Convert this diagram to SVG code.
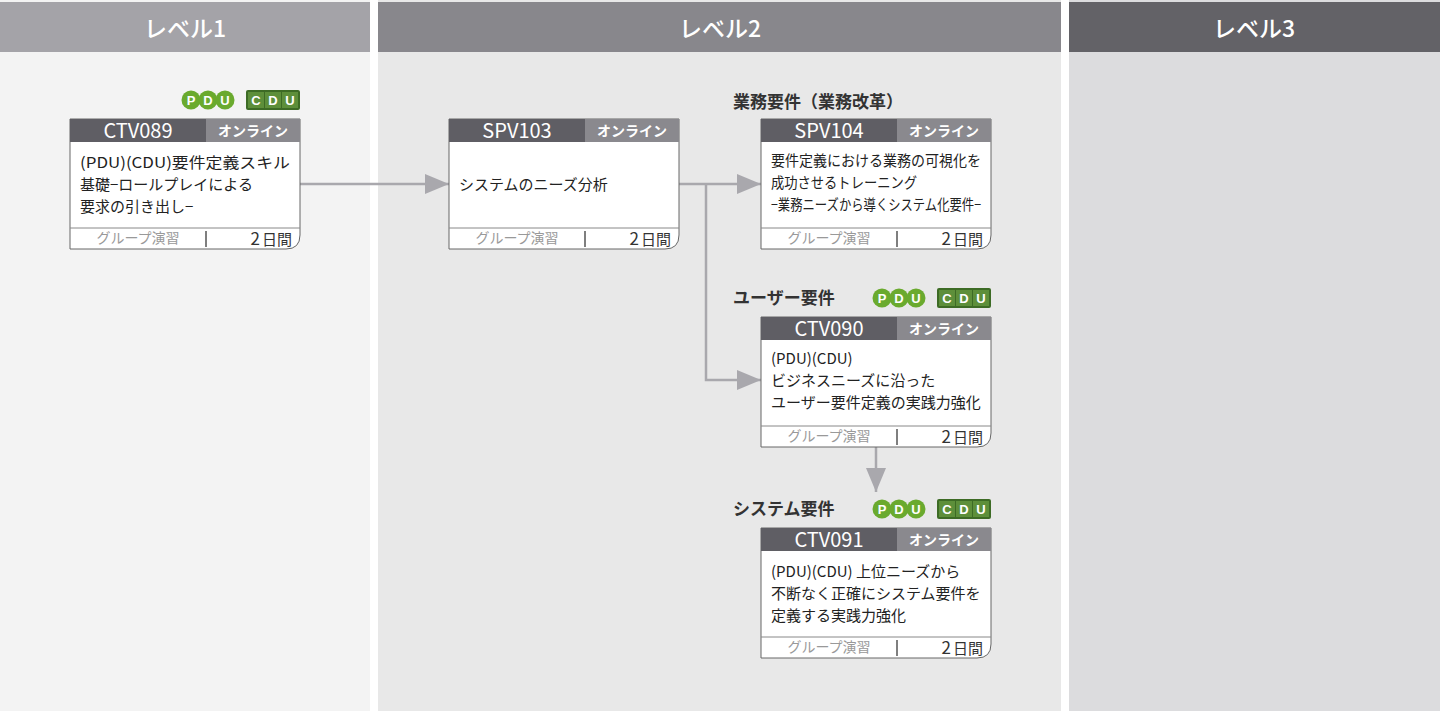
<svg xmlns="http://www.w3.org/2000/svg" width="1440" height="711" viewBox="0 0 1440 711">
<defs>
<style>
text{font-family:"Noto Sans CJK JP","Noto Sans",sans-serif}
.hd{fill:#fff;font-size:23px;font-weight:500;text-anchor:middle}
.code{fill:#fff;font-size:20px;text-anchor:middle}
.on{fill:#fff;font-size:14px;font-weight:bold;text-anchor:middle}
.body{fill:#222;font-size:15px}
.ft{fill:#999;font-size:14px;text-anchor:middle}
.days{fill:#333;font-size:17px;text-anchor:end}
.lab{fill:#333;font-size:17px;font-weight:bold}
.bl{fill:#fff;font-size:13px;font-weight:bold;text-anchor:middle;font-family:"Liberation Sans",sans-serif}
.conn{stroke:#a9a8ad;stroke-width:2.5;fill:none}
</style>
<marker id="ar" markerWidth="24" markerHeight="20" refX="24" refY="10" orient="auto" markerUnits="userSpaceOnUse" viewBox="0 0 24 20"><path d="M0,0 L24,10 L0,20z" fill="#a9a8ad"/></marker>
<symbol id="pdu" viewBox="0 0 54 20"><circle cx="10" cy="10" r="9.5" fill="#6aaa2e"/><circle cx="27" cy="10" r="9.5" fill="#6aaa2e"/><circle cx="44" cy="10" r="9.5" fill="#6aaa2e"/></symbol>
<symbol id="cdu" viewBox="0 0 54 20"><rect x="0" y="0" width="54" height="20" rx="2" fill="#3d6b25"/><rect x="2" y="2" width="16" height="16" fill="#5d8f3a"/><rect x="19" y="2" width="16" height="16" fill="#5d8f3a"/><rect x="36" y="2" width="16" height="16" fill="#5d8f3a"/></symbol>
<g id="card-tpl">
<path d="M0,0 H230 V116 Q230,130 216,130 H0 Z" fill="#fff" stroke="#666" stroke-width="1"/>
<rect x="0" y="0" width="136" height="23" fill="#5f5e64"/>
<rect x="136" y="0" width="94" height="23" fill="#8a898e"/>
<line x1="0" y1="109" x2="230" y2="109" stroke="#888"/>
<line x1="136" y1="112" x2="136" y2="128" stroke="#555" stroke-width="1.5"/>
<text class="on" x="183" y="17">オンライン</text>
<text class="ft" x="68" y="124">グループ演習</text>
<text class="days" x="222" y="126"><tspan>2</tspan><tspan font-size="15" dx="2">日間</tspan></text>
</g>
</defs>
<rect x="0" y="0" width="370" height="711" fill="#f3f3f3"/>
<rect x="378" y="0" width="683" height="711" fill="#e8e8e8"/>
<rect x="1069" y="0" width="371" height="711" fill="#dcdcde"/>
<rect x="0" y="2" width="370" height="50" fill="#a4a3a8"/>
<rect x="378" y="2" width="683" height="50" fill="#88878c"/>
<rect x="1069" y="2" width="371" height="50" fill="#636267"/>
<text class="hd" x="185" y="37">レベル1</text>
<text class="hd" x="720" y="37">レベル2</text>
<text class="hd" x="1254" y="37">レベル3</text>

<g id="connectors">
<line class="conn" x1="300" y1="184" x2="449" y2="184" marker-end="url(#ar)"/>
<line class="conn" x1="679" y1="184" x2="761" y2="184" marker-end="url(#ar)"/>
<polyline class="conn" points="706,184 706,380 761,380" marker-end="url(#ar)"/>
<line class="conn" x1="876" y1="447" x2="876" y2="492" marker-end="url(#ar)"/>
</g>

<g id="ctv089">
<use href="#pdu" x="181" y="90" width="54" height="20"/>
<text class="bl" x="191" y="105">P</text><text class="bl" x="208" y="105">D</text><text class="bl" x="225" y="105">U</text>
<use href="#cdu" x="246" y="90" width="54" height="20"/>
<text class="bl" x="256" y="105">C</text><text class="bl" x="273" y="105">D</text><text class="bl" x="290" y="105">U</text>
<use href="#card-tpl" x="70" y="119"/>
<text class="code" x="138" y="138">CTV089</text>
<text class="body" x="80" y="168" textLength="210" lengthAdjust="spacingAndGlyphs">(PDU)(CDU)要件定義スキル</text>
<text class="body" x="80" y="190">基礎−ロールプレイによる</text>
<text class="body" x="80" y="212">要求の引き出し−</text>
</g>

<g id="spv103">
<use href="#card-tpl" x="449" y="119"/>
<text class="code" x="517" y="138">SPV103</text>
<text class="body" x="459" y="190">システムのニーズ分析</text>
</g>

<g id="spv104">
<text class="lab" x="733" y="108">業務要件（業務改革）</text>
<use href="#card-tpl" x="761" y="119"/>
<text class="code" x="829" y="138">SPV104</text>
<text class="body" x="771" y="166" textLength="210" lengthAdjust="spacingAndGlyphs">要件定義における業務の可視化を</text>
<text class="body" x="771" y="188" textLength="146" lengthAdjust="spacingAndGlyphs">成功させるトレーニング</text>
<text class="body" x="771" y="210" textLength="210" lengthAdjust="spacingAndGlyphs">−業務ニーズから導くシステム化要件−</text>
</g>

<g id="ctv090">
<text class="lab" x="733" y="304">ユーザー要件</text>
<use href="#pdu" x="872" y="288" width="54" height="20"/>
<text class="bl" x="882" y="303">P</text><text class="bl" x="899" y="303">D</text><text class="bl" x="916" y="303">U</text>
<use href="#cdu" x="937" y="288" width="54" height="20"/>
<text class="bl" x="947" y="303">C</text><text class="bl" x="964" y="303">D</text><text class="bl" x="981" y="303">U</text>
<use href="#card-tpl" x="761" y="317"/>
<text class="code" x="829" y="336">CTV090</text>
<text class="body" x="771" y="364">(PDU)(CDU)</text>
<text class="body" x="771" y="386">ビジネスニーズに沿った</text>
<text class="body" x="771" y="408">ユーザー要件定義の実践力強化</text>
</g>

<g id="ctv091">
<text class="lab" x="733" y="515">システム要件</text>
<use href="#pdu" x="872" y="499" width="54" height="20"/>
<text class="bl" x="882" y="514">P</text><text class="bl" x="899" y="514">D</text><text class="bl" x="916" y="514">U</text>
<use href="#cdu" x="937" y="499" width="54" height="20"/>
<text class="bl" x="947" y="514">C</text><text class="bl" x="964" y="514">D</text><text class="bl" x="981" y="514">U</text>
<use href="#card-tpl" x="761" y="528"/>
<text class="code" x="829" y="547">CTV091</text>
<text class="body" x="771" y="577">(PDU)(CDU) 上位ニーズから</text>
<text class="body" x="771" y="599">不断なく正確にシステム要件を</text>
<text class="body" x="771" y="621">定義する実践力強化</text>
</g>
</svg>
